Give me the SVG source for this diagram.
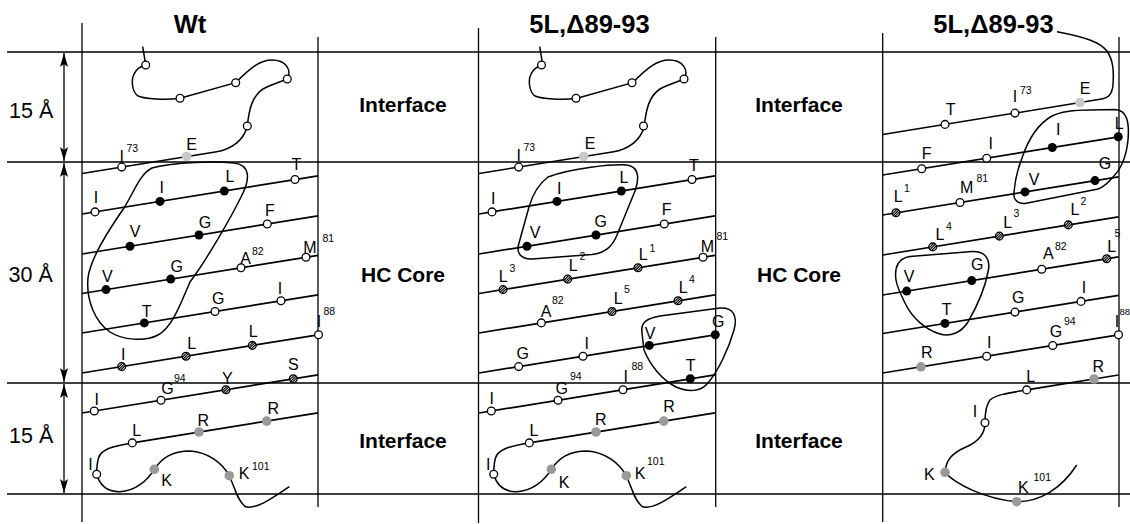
<svg xmlns="http://www.w3.org/2000/svg" width="1130" height="524" viewBox="0 0 1130 524">
<style>
.fr{stroke:#000;stroke-width:1.3;fill:none}
.hx{stroke:#000;stroke-width:1.7;fill:none}
.cv{stroke:#000;stroke-width:1.5;fill:none}
.bl{stroke:#000;stroke-width:1.5;fill:none}
.o{fill:#fff;stroke:#000;stroke-width:1.3}
.b{fill:#000}
.g{fill:#999}
.lg{fill:#c8c8c8}
text{font-family:"Liberation Sans",Arial,sans-serif;fill:#000}
.t{font-size:16px;text-anchor:middle}
.s{font-size:10.5px}
.ti{font-size:25.5px;font-weight:bold;text-anchor:middle}
.rg{font-size:21px;font-weight:bold;text-anchor:middle}
.dm{font-size:21.5px}
</style>
<defs>
<g id="h"><circle r="3.9" fill="#fff" stroke="#000" stroke-width="1.3"/><path d="M-2.8,2.8 L2.8,-2.8 M-3.4,0.9 L0.9,-3.4 M-0.9,3.4 L3.4,-0.9" stroke="#000" stroke-width="1.1"/></g>
<marker id="ah" viewBox="0 0 14 10" refX="14" refY="5" markerWidth="14" markerHeight="10" markerUnits="userSpaceOnUse" orient="auto-start-reverse"><path d="M0,1 L14,5 L0,9 L3,5 Z" fill="#000"/></marker>
</defs>
<rect width="1130" height="524" fill="#fff"/>

<g id="frame" class="fr">
<path d="M7,52 H1130 M7,162 H1130 M7,383 H1130 M7,494 H1130"/>
<path d="M82,23 V522 M318,37 V507 M478.5,28 V523 M715.7,37 V507 M882.7,33 V522 M1119,37 V507"/>
</g>

<g id="scale">
<g class="fr" marker-start="url(#ah)" marker-end="url(#ah)">
<path d="M64,53 V161"/>
<path d="M64,163 V382"/>
<path d="M64,384 V493"/>
</g>
<text class="dm" x="9" y="118">15 Å</text>
<text class="dm" x="8.5" y="281.7">30 Å</text>
<text class="dm" x="9" y="443.3">15 Å</text>
</g>

<g id="titles">
<text class="ti" x="190" y="33.3">Wt</text>
<text class="ti" x="589.5" y="33.3">5L,Δ89-93</text>
<text class="ti" x="993.5" y="33.3">5L,Δ89-93</text>
</g>

<g id="regions">
<text class="rg" x="403" y="112">Interface</text>
<text class="rg" x="403" y="282">HC Core</text>
<text class="rg" x="403" y="448">Interface</text>
<text class="rg" x="799" y="112">Interface</text>
<text class="rg" x="799" y="282">HC Core</text>
<text class="rg" x="799" y="448">Interface</text>
</g>

<!-- Panel 1: Wt -->
<g id="panel-wt">
<g id="wt-chain">
<path class="cv" d="M82,173.5 L216.7,151.7 C232,149 244,140 247.3,126 C249,110 252,96 263,89 C272,84 280,82 287.3,79 C292,70 286,60 272,60 C260,60 250,68 235.7,82.7 L180,98.3 C165,100 145,99 138,96 C132,92 131,80 134,74 C137,68 141,66 145.7,65 L142.7,46.7"/>
<path class="hx" d="M82,214 L318,175.8 M82,254 L318,215.8 M82,293.5 L318,255.3 M82,333 L318,294.8 M82,373 L318,334.8 M82,413 L318,374.8"/>
<path class="hx" d="M318,412.8 L132.3,442.9"/>
<path class="cv" d="M132.3,442.9 C115,445.5 101,449 98.5,458 C97,463 96.7,468 96.7,474.3 C100,486 108,492 120,491.7 C135,491 147,481 154.3,469.3 C162,458 172,451 190,451 C208,452 222,463 229.3,475.7 C235,488 237,500 245,506.5 C255,510 270,500 289.3,486.7"/>
</g>
<path class="bl" d="M152,168 C175,162 215,161 234,163 C250,165 250,178 243,193 C230,220 205,262 190,282 C180,305 172,328 158,335 C145,342 122,340 110,332 C95,322 86,300 88,278 C90,260 110,228 124,208 C135,190 140,174 152,168 Z"/>
<circle class="o" cx="145.7" cy="65" r="3.9"/>
<circle class="o" cx="180" cy="98.3" r="3.9"/>
<circle class="o" cx="235.7" cy="82.7" r="3.9"/>
<circle class="o" cx="287.3" cy="79" r="3.9"/>
<circle class="o" cx="247.3" cy="126" r="3.9"/>
<circle class="lg" cx="186.7" cy="156.5" r="4.8"/>
<circle class="o" cx="121.7" cy="167.1" r="3.9"/>
<circle class="o" cx="95" cy="211.9" r="3.9"/>
<circle class="b" cx="160" cy="201.4" r="4.5"/>
<circle class="b" cx="224.3" cy="191" r="4.5"/>
<circle class="o" cx="295" cy="179.5" r="3.9"/>
<circle class="b" cx="130" cy="246.2" r="4.5"/>
<circle class="b" cx="199" cy="235" r="4.5"/>
<circle class="o" cx="267.3" cy="224" r="3.9"/>
<circle class="b" cx="106" cy="289.6" r="4.5"/>
<circle class="b" cx="170.7" cy="279.1" r="4.5"/>
<circle class="o" cx="241" cy="267.7" r="3.9"/>
<circle class="o" cx="306" cy="257.2" r="3.9"/>
<circle class="b" cx="144.3" cy="322.9" r="4.5"/>
<circle class="o" cx="215" cy="311.5" r="3.9"/>
<circle class="o" cx="281" cy="300.8" r="3.9"/>
<use href="#h" x="121.7" y="366.6"/>
<use href="#h" x="186" y="356.2"/>
<use href="#h" x="252.3" y="345.4"/>
<circle class="o" cx="318.5" cy="334.8" r="3.9"/>
<circle class="o" cx="94.3" cy="411" r="3.9"/>
<circle class="o" cx="161" cy="400.2" r="3.9"/>
<use href="#h" x="226" y="389.7"/>
<use href="#h" x="293.3" y="378.8"/>
<circle class="o" cx="132.3" cy="442.9" r="3.9"/>
<circle class="g" cx="199" cy="432" r="4.8"/>
<circle class="g" cx="266.7" cy="421.1" r="4.8"/>
<circle class="o" cx="96.7" cy="474.3" r="3.9"/>
<circle class="g" cx="154.3" cy="469.3" r="4.8"/>
<circle class="g" cx="229.3" cy="475.7" r="4.8"/>
<g>
<text class="t" x="121.7" y="161.5">I</text><text class="s" x="126.5" y="152">73</text>
<text class="t" x="191.7" y="150">E</text>
<text class="t" x="296.5" y="170">T</text>
<text class="t" x="96" y="203">I</text>
<text class="t" x="161.7" y="193">I</text>
<text class="t" x="230" y="181.5">L</text>
<text class="t" x="135" y="236.5">V</text>
<text class="t" x="205" y="228">G</text>
<text class="t" x="270" y="216">F</text>
<text class="t" x="107.3" y="281.5">V</text>
<text class="t" x="176.7" y="272">G</text>
<text class="t" x="245.5" y="263.5">A</text><text class="s" x="252" y="255">82</text>
<text class="t" x="310" y="253">M</text><text class="s" x="322.5" y="242">81</text>
<text class="t" x="146.7" y="316.5">T</text>
<text class="t" x="218.3" y="303.5">G</text>
<text class="t" x="280" y="293.5">I</text>
<text class="t" x="319" y="326.5">I</text><text class="s" x="323.5" y="314.5">88</text>
<text class="t" x="123.3" y="360">I</text>
<text class="t" x="191.7" y="348.5">L</text>
<text class="t" x="253.3" y="337">L</text>
<text class="t" x="293.3" y="370">S</text>
<text class="t" x="227.3" y="383.5">Y</text>
<text class="t" x="167.5" y="393.5">G</text><text class="s" x="174" y="382">94</text>
<text class="t" x="96.7" y="405">I</text>
<text class="t" x="273.3" y="413.5">R</text>
<text class="t" x="203.3" y="425.5">R</text>
<text class="t" x="136.7" y="435.5">L</text>
<text class="t" x="90.5" y="470">I</text>
<text class="t" x="166.7" y="485.5">K</text>
<text class="t" x="244" y="478.5">K</text><text class="s" x="252" y="469.5">101</text>
</g>
</g>

<!-- Panel 2 -->
<g id="panel-mut1">
<use href="#wt-chain" x="397"/>
<path class="bl" d="M548,177 C572,168 612,164 627,165 C640,167 639,180 635,191 L617,235 C612,247 605,253 592,254.5 L532,259 C520,259.5 516,252 519,243 L529,207 C533,193 540,183 548,177 Z"/>
<path class="bl" d="M642,333 C640,322 648,318 660,316 L720,308 C733,307 738,316 734,330 C729,348 718,372 707,384 C700,392 688,392 676,387 C662,380 650,365 644,350 Z"/>
<circle class="o" cx="541.5" cy="65" r="3.9"/>
<circle class="o" cx="576" cy="98.3" r="3.9"/>
<circle class="o" cx="632" cy="82.7" r="3.9"/>
<circle class="o" cx="684" cy="79" r="3.9"/>
<circle class="o" cx="643.5" cy="126" r="3.9"/>
<circle class="lg" cx="583.7" cy="156.5" r="4.8"/>
<circle class="o" cx="518.7" cy="167.1" r="3.9"/>
<circle class="o" cx="492" cy="211.9" r="3.9"/>
<circle class="b" cx="557" cy="201.4" r="4.5"/>
<circle class="b" cx="621.3" cy="191" r="4.5"/>
<circle class="o" cx="692" cy="179.5" r="3.9"/>
<circle class="b" cx="527" cy="246.2" r="4.5"/>
<circle class="b" cx="596" cy="235" r="4.5"/>
<circle class="o" cx="664.3" cy="224" r="3.9"/>
<use href="#h" x="503" y="289.6"/>
<use href="#h" x="567.7" y="279.1"/>
<use href="#h" x="638" y="267.7"/>
<circle class="o" cx="703" cy="257.2" r="3.9"/>
<circle class="o" cx="541.3" cy="322.9" r="3.9"/>
<use href="#h" x="612" y="311.5"/>
<use href="#h" x="678" y="300.8"/>
<circle class="o" cx="518.7" cy="366.6" r="3.9"/>
<circle class="o" cx="583" cy="356.2" r="3.9"/>
<circle class="b" cx="649.3" cy="345.4" r="4.5"/>
<circle class="b" cx="715.3" cy="334.8" r="4.5"/>
<circle class="o" cx="491.3" cy="411" r="3.9"/>
<circle class="o" cx="558" cy="400.2" r="3.9"/>
<circle class="o" cx="623" cy="389.7" r="3.9"/>
<circle class="b" cx="690.3" cy="378.8" r="4.5"/>
<circle class="o" cx="529.3" cy="442.9" r="3.9"/>
<circle class="g" cx="596" cy="432" r="4.8"/>
<circle class="g" cx="663.7" cy="421.1" r="4.8"/>
<circle class="o" cx="493.7" cy="474.3" r="3.9"/>
<circle class="g" cx="551.3" cy="469.3" r="4.8"/>
<circle class="g" cx="626.3" cy="475.7" r="4.8"/>
<g>
<text class="t" x="518.7" y="161">I</text><text class="s" x="523.5" y="151">73</text>
<text class="t" x="590" y="148.5">E</text>
<text class="t" x="694" y="170.5">T</text>
<text class="t" x="493.3" y="204">I</text>
<text class="t" x="559.3" y="193.5">I</text>
<text class="t" x="624" y="183">L</text>
<text class="t" x="535" y="237.5">V</text>
<text class="t" x="600.7" y="227">G</text>
<text class="t" x="666.7" y="215">F</text>
<text class="t" x="503.3" y="281.5">L</text><text class="s" x="509.5" y="272">3</text>
<text class="t" x="573.3" y="270.5">L</text><text class="s" x="579.5" y="259.5">2</text>
<text class="t" x="643.3" y="260">L</text><text class="s" x="649.5" y="251.5">1</text>
<text class="t" x="707.3" y="252">M</text><text class="s" x="716.5" y="240">81</text>
<text class="t" x="546" y="317">A</text><text class="s" x="552" y="303.5">82</text>
<text class="t" x="618.3" y="303.5">L</text><text class="s" x="624" y="292.5">5</text>
<text class="t" x="683.3" y="292.5">L</text><text class="s" x="689" y="282.5">4</text>
<text class="t" x="522.7" y="358.5">G</text>
<text class="t" x="586.7" y="348.5">I</text>
<text class="t" x="650" y="338.5">V</text>
<text class="t" x="718.3" y="327">G</text>
<text class="t" x="690.7" y="370.5">T</text>
<text class="t" x="625.7" y="382">I</text><text class="s" x="631.5" y="369.5">88</text>
<text class="t" x="561.7" y="393.5">G</text><text class="s" x="570" y="380">94</text>
<text class="t" x="491.7" y="404">I</text>
<text class="t" x="669" y="411.5">R</text>
<text class="t" x="600.7" y="424.5">R</text>
<text class="t" x="534" y="435.5">L</text>
<text class="t" x="488.3" y="470">I</text>
<text class="t" x="564" y="487.5">K</text>
<text class="t" x="640" y="478.5">K</text><text class="s" x="647" y="465">101</text>
</g>
</g>

<!-- Panel 3 -->
<g id="panel-mut2">
<path class="cv" d="M882.7,134.5 L1100,99.3 C1108,98.3 1112,95 1113,85 C1114,70 1113,60 1107,51 C1100,42 1085,37 1057,31.7"/>
<path class="hx" d="M882.7,175 L1118.5,136.8 M882.7,215 L1118.5,176.8 M882.7,255 L1118.5,216.8 M882.7,295 L1118.5,256.8 M882.7,333.5 L1118.5,295.3 M882.7,373 L1118.5,334.8"/>
<path class="hx" d="M1118.5,375 L1026.7,389.9"/>
<path class="cv" d="M1026.7,389.9 C1008,393 995,395 990,400 C986,405 985,412 985,422.7 C985,432 980,441 966,447 C952,453 946,460 945,472.3 C955,484 985,499 1016.7,501.7 C1040,502 1062,488 1076.7,465"/>
<path class="bl" d="M1090,110 L1115,109.5 C1127,110 1129.5,122 1128,140 C1126.5,155 1122,168 1113,177 C1108,183 1104,187 1098,189 L1025,203.5 C1017,204 1013,199 1014,192 C1015,180 1018,168 1022,158 C1028,140 1038,124 1052,116 C1062,111 1075,110 1090,110 Z"/>
<path class="bl" d="M896,280 C894,266 899,258 910,256.5 L972,251.5 C986,251 991,260 988,272 C985,288 976,308 968,322 C961,333 950,337 940,334 C926,330 912,318 905,303 C900,293 897,287 896,280 Z"/>
<circle class="o" cx="945" cy="124.4" r="3.9"/>
<circle class="o" cx="1015" cy="113.1" r="3.9"/>
<circle class="lg" cx="1080" cy="102.5" r="4.8"/>
<circle class="o" cx="921.7" cy="168.7" r="3.9"/>
<circle class="o" cx="986.7" cy="158.2" r="3.9"/>
<circle class="b" cx="1052.3" cy="147.5" r="4.5"/>
<circle class="b" cx="1118.3" cy="136.8" r="4.5"/>
<use href="#h" x="896" y="212.8"/>
<circle class="o" cx="960" cy="202.5" r="3.9"/>
<circle class="b" cx="1025" cy="191.9" r="4.5"/>
<circle class="b" cx="1095" cy="180.6" r="4.5"/>
<use href="#h" x="932.7" y="246.9"/>
<use href="#h" x="999.3" y="236.1"/>
<use href="#h" x="1068.3" y="224.9"/>
<circle class="b" cx="906.7" cy="291.1" r="4.5"/>
<circle class="b" cx="971.7" cy="280.6" r="4.5"/>
<circle class="o" cx="1041.7" cy="269.2" r="3.9"/>
<use href="#h" x="1106.7" y="258.7"/>
<circle class="b" cx="945" cy="323.4" r="4.5"/>
<circle class="o" cx="1015" cy="312.1" r="3.9"/>
<circle class="o" cx="1081" cy="301.4" r="3.9"/>
<circle class="g" cx="921" cy="366.8" r="4.8"/>
<circle class="o" cx="986.7" cy="356.2" r="3.9"/>
<circle class="o" cx="1052.7" cy="345.5" r="3.9"/>
<circle class="o" cx="1118.5" cy="334.8" r="3.9"/>
<circle class="g" cx="1094" cy="379" r="4.8"/>
<circle class="o" cx="1026.7" cy="389.9" r="3.9"/>
<circle class="o" cx="985" cy="422.7" r="3.9"/>
<circle class="g" cx="945" cy="472.3" r="4.8"/>
<circle class="g" cx="1016.7" cy="501.7" r="4.8"/>
<g>
<text class="t" x="950.7" y="115">T</text>
<text class="t" x="1015" y="102">I</text><text class="s" x="1020" y="94">73</text>
<text class="t" x="1085" y="93.5">E</text>
<text class="t" x="926.7" y="158.5">F</text>
<text class="t" x="990.7" y="148.5">I</text>
<text class="t" x="1058.3" y="135">I</text>
<text class="t" x="1119.3" y="128.5">L</text>
<text class="t" x="1105" y="168.5">G</text>
<text class="t" x="898.3" y="201.5">L</text><text class="s" x="904" y="191.5">1</text>
<text class="t" x="966.7" y="193.3">M</text><text class="s" x="976.5" y="181.7">81</text>
<text class="t" x="1034" y="185">V</text>
<text class="t" x="940" y="240">L</text><text class="s" x="946" y="230">4</text>
<text class="t" x="1007.7" y="228.3">L</text><text class="s" x="1013.5" y="217.3">3</text>
<text class="t" x="1075" y="215">L</text><text class="s" x="1080.5" y="205">2</text>
<text class="t" x="909" y="281.7">V</text>
<text class="t" x="977.3" y="270">G</text>
<text class="t" x="1048.3" y="259.3">A</text><text class="s" x="1055" y="250">82</text>
<text class="t" x="1111.7" y="252">L</text><text class="s" x="1114.5" y="237">5</text>
<text class="t" x="946.7" y="315">T</text>
<text class="t" x="1018.3" y="303.3">G</text>
<text class="t" x="1084" y="293.3">I</text>
<text class="t" x="1056" y="336.5">G</text><text class="s" x="1064" y="325">94</text>
<text class="t" x="1117" y="326.7">I</text><text style="font-size:9.5px" x="1119.5" y="315">88</text>
<text class="t" x="926.7" y="358.3">R</text>
<text class="t" x="989.3" y="348.3">I</text>
<text class="t" x="1098.3" y="371.7">R</text>
<text class="t" x="1030.7" y="381.7">L</text>
<text class="t" x="975" y="416.7">I</text>
<text class="t" x="929.3" y="480">K</text>
<text class="t" x="1023.3" y="493.3">K</text><text class="s" x="1033.5" y="480.5">101</text>
</g>
</g>
</svg>
